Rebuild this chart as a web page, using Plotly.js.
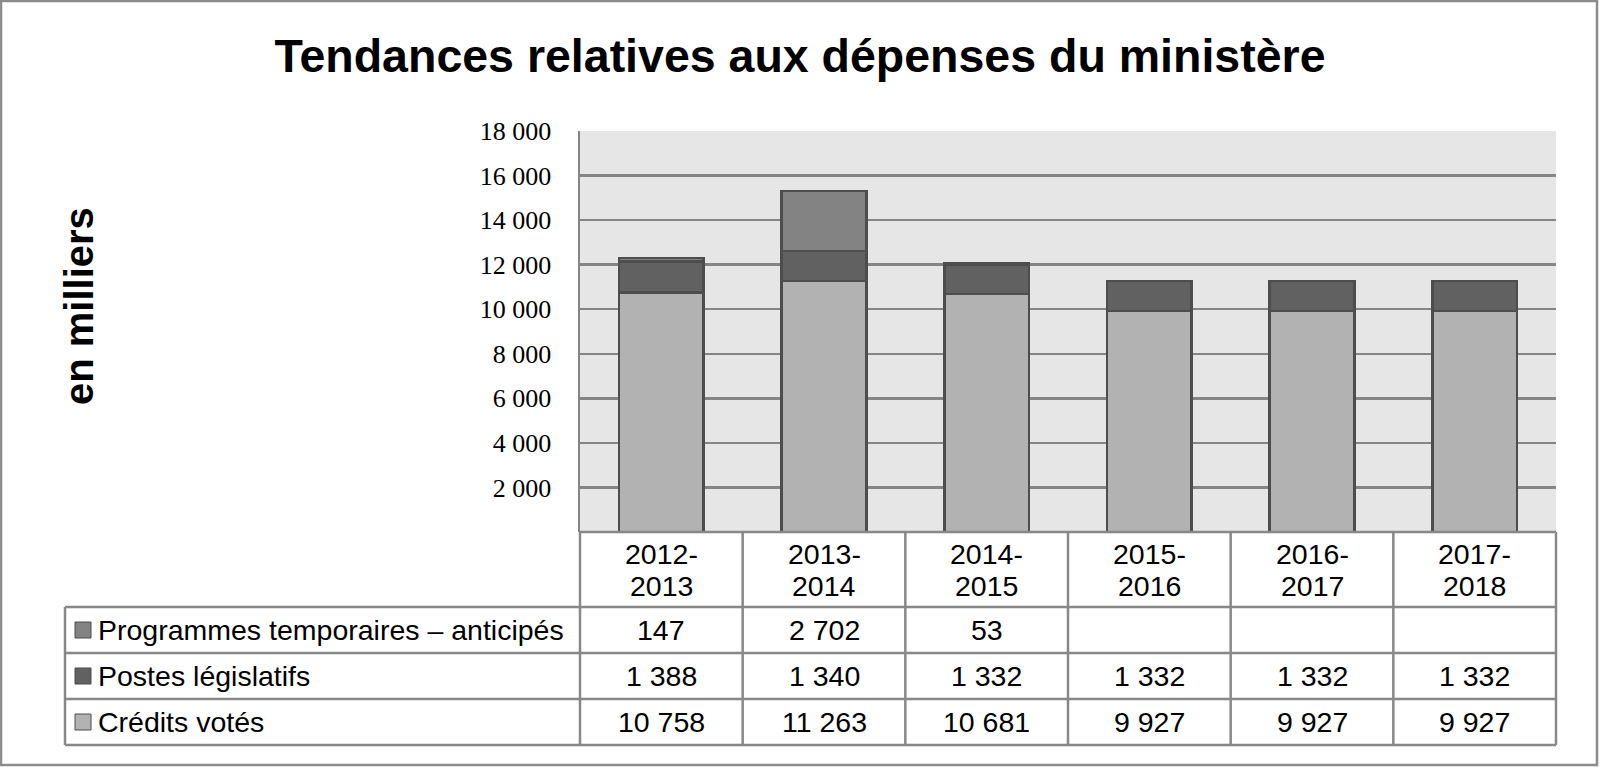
<!DOCTYPE html>
<html>
<head>
<meta charset="utf-8">
<script src="https://cdn.plot.ly/plotly-3.0.1.min.js"></script>
<style>
html,body{margin:0;padding:0;background:#fff;}
#chart{width:1600px;height:767px;}
</style>
</head>
<body>
<div id="chart"></div>
<script>
// ---- Data ----
const categories = ["2012-2013", "2013-2014", "2014-2015", "2015-2016", "2016-2017", "2017-2018"];
const seriesNames = ["Programmes temporaires – anticipés", "Postes législatifs", "Crédits votés"];
const creditsVotes = [10758, 11263, 10681, 9927, 9927, 9927];
const postesLegislatifs = [1388, 1340, 1332, 1332, 1332, 1332];
const programmesTemporaires = [147, 2702, 53, null, null, null];
const yTickValues = [2000, 4000, 6000, 8000, 10000, 12000, 14000, 16000, 18000];

// ---- Styling ----
const colors = {
  credits: "#b2b2b2",
  postes: "#616161",
  programmes: "#838383",
  outline: "#4d4d4d",
  grid: "#858585",
  table: "#888888"
};

// pixel geometry of the plot area
const W = 1600, H = 767;
const L = 580, R = 1556, T = 131, B = 532;
const px2x = p => (p - L) / (R - L);
const px2y = p => (B - p) / (B - T);

function fmt(v) {
  if (v === null || v === undefined) return "";
  return String(v).replace(/\B(?=(\d{3})+(?!\d))/g, " ");
}

const barLine = {color: colors.outline, width: 2.5};
const traces = [
  {type: "bar", name: seriesNames[2], x: categories, y: creditsVotes,
   marker: {color: colors.credits, line: barLine}, hoverinfo: "skip"},
  {type: "bar", name: seriesNames[1], x: categories, y: postesLegislatifs,
   marker: {color: colors.postes, line: barLine}, hoverinfo: "skip"},
  {type: "bar", name: seriesNames[0], x: categories, y: programmesTemporaires,
   marker: {color: colors.programmes, line: barLine}, hoverinfo: "skip"}
];

// ---- Table (shapes + annotations) ----
const shapes = [];
const annotations = [];
const lineStyle = {color: colors.table, width: 2.5};
const textFont = {family: "Liberation Sans, Arial, sans-serif", size: 28.5, color: "#000"};

const rowLines = [607, 653, 699, 745];
const legendLeft = 65;
// header top line
shapes.push({type: "line", xref: "paper", yref: "paper", x0: px2x(L), x1: px2x(R), y0: px2y(B), y1: px2y(B), line: lineStyle, layer: "above"});
// horizontal row lines
rowLines.forEach(py => {
  shapes.push({type: "line", xref: "paper", yref: "paper", x0: px2x(legendLeft), x1: px2x(R), y0: px2y(py), y1: px2y(py), line: lineStyle});
});
// vertical column lines
const colW = (R - L) / categories.length;
for (let i = 0; i <= categories.length; i++) {
  const px = L + i * colW;
  shapes.push({type: "line", xref: "paper", yref: "paper", x0: px2x(px), x1: px2x(px), y0: px2y(B), y1: px2y(rowLines[3]), line: lineStyle});
}
// legend column left edge
shapes.push({type: "line", xref: "paper", yref: "paper", x0: px2x(legendLeft), x1: px2x(legendLeft), y0: px2y(rowLines[0]), y1: px2y(rowLines[3]), line: lineStyle});

// outer border
shapes.push({type: "rect", xref: "paper", yref: "paper", x0: px2x(1), x1: px2x(1597), y0: px2y(1), y1: px2y(765), line: {color: "#8c8c8c", width: 2.5}, fillcolor: "rgba(0,0,0,0)"});

// header (years) - two lines each
categories.forEach(c => {
  const parts = c.split("-");
  annotations.push({xref: "x", yref: "paper", x: c, y: px2y(554), text: parts[0] + "-", showarrow: false,
    font: textFont, xanchor: "center", yanchor: "middle"});
  annotations.push({xref: "x", yref: "paper", x: c, y: px2y(586), text: parts[1], showarrow: false,
    font: textFont, xanchor: "center", yanchor: "middle"});
});

// rows
const rows = [
  {name: seriesNames[0], values: programmesTemporaires, color: colors.programmes},
  {name: seriesNames[1], values: postesLegislatifs, color: colors.postes},
  {name: seriesNames[2], values: creditsVotes, color: colors.credits}
];
rows.forEach((r, i) => {
  const top = rowLines[i], bot = rowLines[i + 1];
  const cy = (top + bot) / 2;
  // legend swatch
  shapes.push({type: "rect", xref: "paper", yref: "paper", x0: px2x(75), x1: px2x(91), y0: px2y(cy - 8), y1: px2y(cy + 8),
    fillcolor: r.color, line: {color: colors.outline, width: 1}});
  annotations.push({xref: "paper", yref: "paper", x: px2x(96), y: px2y(cy), text: r.name, showarrow: false,
    font: textFont, xanchor: "left", yanchor: "middle"});
  r.values.forEach((v, j) => {
    annotations.push({xref: "x", yref: "paper", x: categories[j], y: px2y(cy), text: fmt(v), showarrow: false,
      font: textFont, xanchor: "center", yanchor: "middle"});
  });
});

// y axis label
annotations.push({xref: "paper", yref: "paper", x: px2x(79), y: px2y(306), text: "<b>en milliers</b>", textangle: -90, showarrow: false,
  font: {family: "Liberation Sans, Arial, sans-serif", size: 40, color: "#000"}, xanchor: "center", yanchor: "middle"});

const layout = {
  width: W, height: H,
  margin: {l: L, r: W - R, t: T, b: H - B, pad: 0},
  paper_bgcolor: "#ffffff",
  plot_bgcolor: "#e6e6e6",
  separators: ", ",
  barmode: "stack",
  bargap: 0.48,
  showlegend: false,
  title: {
    text: "<b>Tendances relatives aux dépenses du ministère</b>",
    font: {family: "Liberation Sans, Arial, sans-serif", size: 46.5, color: "#000"},
    x: 0.5, xanchor: "center", xref: "container",
    y: 1 - 56 / H, yref: "container", yanchor: "middle"
  },
  xaxis: {
    type: "category",
    showticklabels: false,
    showgrid: false,
    zeroline: false,
    showline: false,
    ticks: ""
  },
  yaxis: {
    range: [0, 18000],
    tickvals: yTickValues,
    tickformat: ",",
    showgrid: true,
    gridcolor: colors.grid,
    gridwidth: 2.5,
    zeroline: false,
    showline: true,
    linecolor: colors.grid,
    linewidth: 2.5,
    ticks: "",
    ticklabelstandoff: 21,
    tickfont: {family: "Liberation Serif, DejaVu Serif, serif", size: 26, color: "#000"}
  },
  shapes: shapes,
  annotations: annotations
};

Plotly.newPlot("chart", traces, layout, {staticPlot: true, displayModeBar: false});
</script>
</body>
</html>
